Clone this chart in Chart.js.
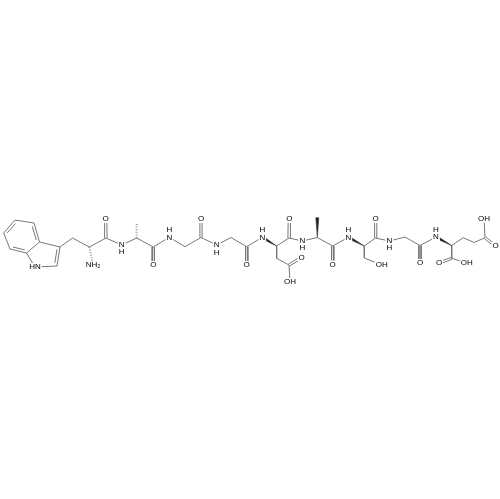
<!DOCTYPE html>
<html>
<head>
  <meta name="viewport" content="width=device-width, initial-scale=1.0">
  <title>Peptide structure</title>
  <script src="https://cdn.jsdelivr.net/npm/chart.js"></script>
  <style>
    body { margin: 0; padding: 0; background-color: #ffffff; }
    canvas { display: block; }
  </style>
</head>
<body>
  <canvas id="myChart" width="500" height="499"></canvas>

  <script>
    // Atom positions (index = atom number)
    const atomX = [15, 34, 39.5, 26.5, 10, 3.7, 35, 57, 60, 72.5,
      89.3, 106, 105.7, 93, 121.7, 136.7, 136.7, 153.3, 153.3, 169.3,
      185, 201, 201, 216.7, 231, 246.7, 246.7, 262.3, 276.5, 289,
      289.3, 276.7, 289, 301.7, 290, 302.3, 317.3, 317.3, 332.7, 332.7,
      348.3, 364.3, 375.5, 375.7, 364.3, 381.7, 389.3, 405, 420, 420,
      436, 451.7, 451.7, 439, 466.7, 463.3, 474, 485, 484, 495.7];
    const atomY = [220, 223, 242, 253, 249, 233, 267, 266, 247, 238,
      247, 238, 219, 265, 245, 238, 223, 247, 265, 237.3,
      246.7, 237.5, 219, 245, 237.5, 246.7, 265, 237.3, 246, 238,
      219, 258.3, 265, 257.3, 282, 241, 237.5, 217.7, 246, 264.5,
      237.3, 246, 238, 219, 258, 265, 241, 237, 245.5, 263,
      237, 245.5, 258.3, 263, 263, 237.7, 242.5, 237.7, 219, 246];

    // Bonds as atom pairs. Kinds: s single, d double, b/p double inside the
    // benzene/pyrrole ring, w wedge (wide end first), h hashed (narrow end first)
    const bondFrom = [0, 1, 2, 3, 4, 5, 3, 6, 7, 8, 8, 9, 10, 11, 11, 10,
      14, 15, 15, 17, 17, 19, 20, 21, 21, 23, 24, 25, 25, 27, 28, 29, 29, 28, 31, 32, 32,
      35, 37, 36, 38, 38, 40, 41, 42, 42, 41, 44, 46, 47, 48, 48, 50, 51, 52, 52, 51, 55, 56, 57, 57];
    const bondTo = [1, 2, 3, 4, 5, 0, 6, 7, 8, 2, 9, 10, 11, 12, 14, 13,
      15, 16, 17, 18, 19, 20, 21, 22, 23, 24, 25, 26, 27, 28, 29, 30, 35, 31, 32, 33, 34,
      36, 36, 38, 39, 40, 41, 42, 43, 46, 44, 45, 47, 48, 49, 50, 51, 52, 53, 54, 55, 56, 57, 58, 59];
    const bondKind = ['s', 'b', 's', 'b', 's', 'b', 's', 's', 'p', 's', 's', 's', 's', 'd', 's', 'h',
      's', 'h', 's', 'd', 's', 's', 's', 'd', 's', 's', 's', 'd', 's', 'w', 's', 'd', 's', 's', 's', 'd', 's',
      's', 'w', 's', 'd', 's', 'w', 's', 'd', 's', 's', 's', 's', 's', 'd', 's', 'w', 's', 'd', 's', 's', 's', 's', 's', 'd'];

    // Atom and hydrogen labels
    const labelText = ['HN', 'O', 'NH₂', 'N', 'H', 'O', 'N', 'H', 'O', 'N', 'H', 'O', 'N', 'H', 'O', 'O', 'OH', 'N', 'H',
      'O', 'N', 'H', 'O', 'OH', 'N', 'H', 'O', 'N', 'H', 'O', 'OH', 'OH', 'O'];
    const labelX = [35, 105.7, 93, 121.7, 121.7, 153.3, 169.3, 169.3, 201, 216.7, 216.7, 246.7, 262.3, 262.3, 289.3, 301.7, 290, 302.3, 302.3,
      332.7, 348.3, 348.3, 375.7, 381.7, 389.3, 389.3, 420, 436, 436, 439, 466.7, 484, 495.7];
    const labelY = [267, 219, 265, 245, 252, 265, 237.3, 230, 219, 245, 252.3, 265, 237.3, 230, 219, 257.3, 282, 241, 248,
      264.5, 237.3, 230, 219, 265, 241, 247.5, 263, 237, 230, 263, 263, 219, 246];

    const lineColor = '#777777';
    const benzene = [0, 1, 2, 3, 4, 5];
    const pyrrole = [2, 3, 6, 7, 8];

    function pt(i) { return { x: atomX[i], y: atomY[i] }; }
    function centre(ids) {
      return {
        x: ids.reduce((s, i) => s + atomX[i], 0) / ids.length,
        y: ids.reduce((s, i) => s + atomY[i], 0) / ids.length
      };
    }
    function lineSet(data, extra) {
      return Object.assign({
        data: data, showLine: true, pointRadius: 0, borderColor: lineColor,
        borderWidth: 1, fill: false
      }, extra || {});
    }

    const datasets = [];
    bondFrom.forEach((a, n) => {
      const b = bondTo[n], kind = bondKind[n];
      const p = pt(a), q = pt(b);
      const dx = q.x - p.x, dy = q.y - p.y, len = Math.hypot(dx, dy);
      const nx = -dy / len, ny = dx / len;
      if (kind === 's') {
        datasets.push(lineSet([p, q]));
      } else if (kind === 'd') {
        const o = 1.1;
        datasets.push(lineSet([{ x: p.x + nx * o, y: p.y + ny * o }, { x: q.x + nx * o, y: q.y + ny * o }]));
        datasets.push(lineSet([{ x: p.x - nx * o, y: p.y - ny * o }, { x: q.x - nx * o, y: q.y - ny * o }]));
      } else if (kind === 'b' || kind === 'p') {
        // second line sits inside the ring and is a bit shorter
        const c = centre(kind === 'b' ? benzene : pyrrole);
        const mx = (p.x + q.x) / 2, my = (p.y + q.y) / 2;
        const side = (c.x - mx) * nx + (c.y - my) * ny > 0 ? 1 : -1;
        const o = 2.6 * side, t = 0.14;
        datasets.push(lineSet([p, q]));
        datasets.push(lineSet([
          { x: p.x + dx * t + nx * o, y: p.y + dy * t + ny * o },
          { x: q.x - dx * t + nx * o, y: q.y - dy * t + ny * o }
        ]));
      } else if (kind === 'w') {
        datasets.push(lineSet([
          { x: p.x + nx * 1.5, y: p.y + ny * 1.5 },
          { x: p.x - nx * 1.5, y: p.y - ny * 1.5 },
          q,
          { x: p.x + nx * 1.5, y: p.y + ny * 1.5 }
        ], { backgroundColor: '#222222', borderColor: '#222222', borderWidth: 0.5, fill: 'shape' }));
      } else if (kind === 'h') {
        datasets.push(lineSet([p, q], { borderDash: [1, 1.6], borderWidth: 2, borderColor: '#999999' }));
      }
    });

    // Draws the atom labels on a white patch so bonds stop short of the letters
    const atomLabels = {
      id: 'atomLabels',
      afterDatasetsDraw(chart) {
        const c = chart.ctx, sx = chart.scales.x, sy = chart.scales.y;
        c.save();
        c.font = '8px "Liberation Sans", Arial, sans-serif';
        c.textAlign = 'center';
        c.textBaseline = 'middle';
        labelText.forEach((t, i) => {
          const x = sx.getPixelForValue(labelX[i]), y = sy.getPixelForValue(labelY[i]);
          const w = c.measureText(t).width + 2;
          c.fillStyle = '#ffffff';
          c.fillRect(x - w / 2, y - 4, w, 8);
        });
        c.fillStyle = '#000000';
        labelText.forEach((t, i) => {
          c.fillText(t, sx.getPixelForValue(labelX[i]), sy.getPixelForValue(labelY[i]));
        });
        c.restore();
      }
    };

    const ctx = document.getElementById('myChart').getContext('2d');
    const chart = new Chart(ctx, {
      type: 'scatter',
      data: { datasets: datasets },
      options: {
        responsive: false,
        animation: false,
        layout: { padding: 0 },
        scales: {
          x: { type: 'linear', min: 0, max: 500, display: false },
          y: { type: 'linear', min: 0, max: 499, reverse: true, display: false }
        },
        plugins: {
          legend: { display: false },
          tooltip: { enabled: false }
        }
      },
      plugins: [atomLabels]
    });
  </script>
</body>
</html>
